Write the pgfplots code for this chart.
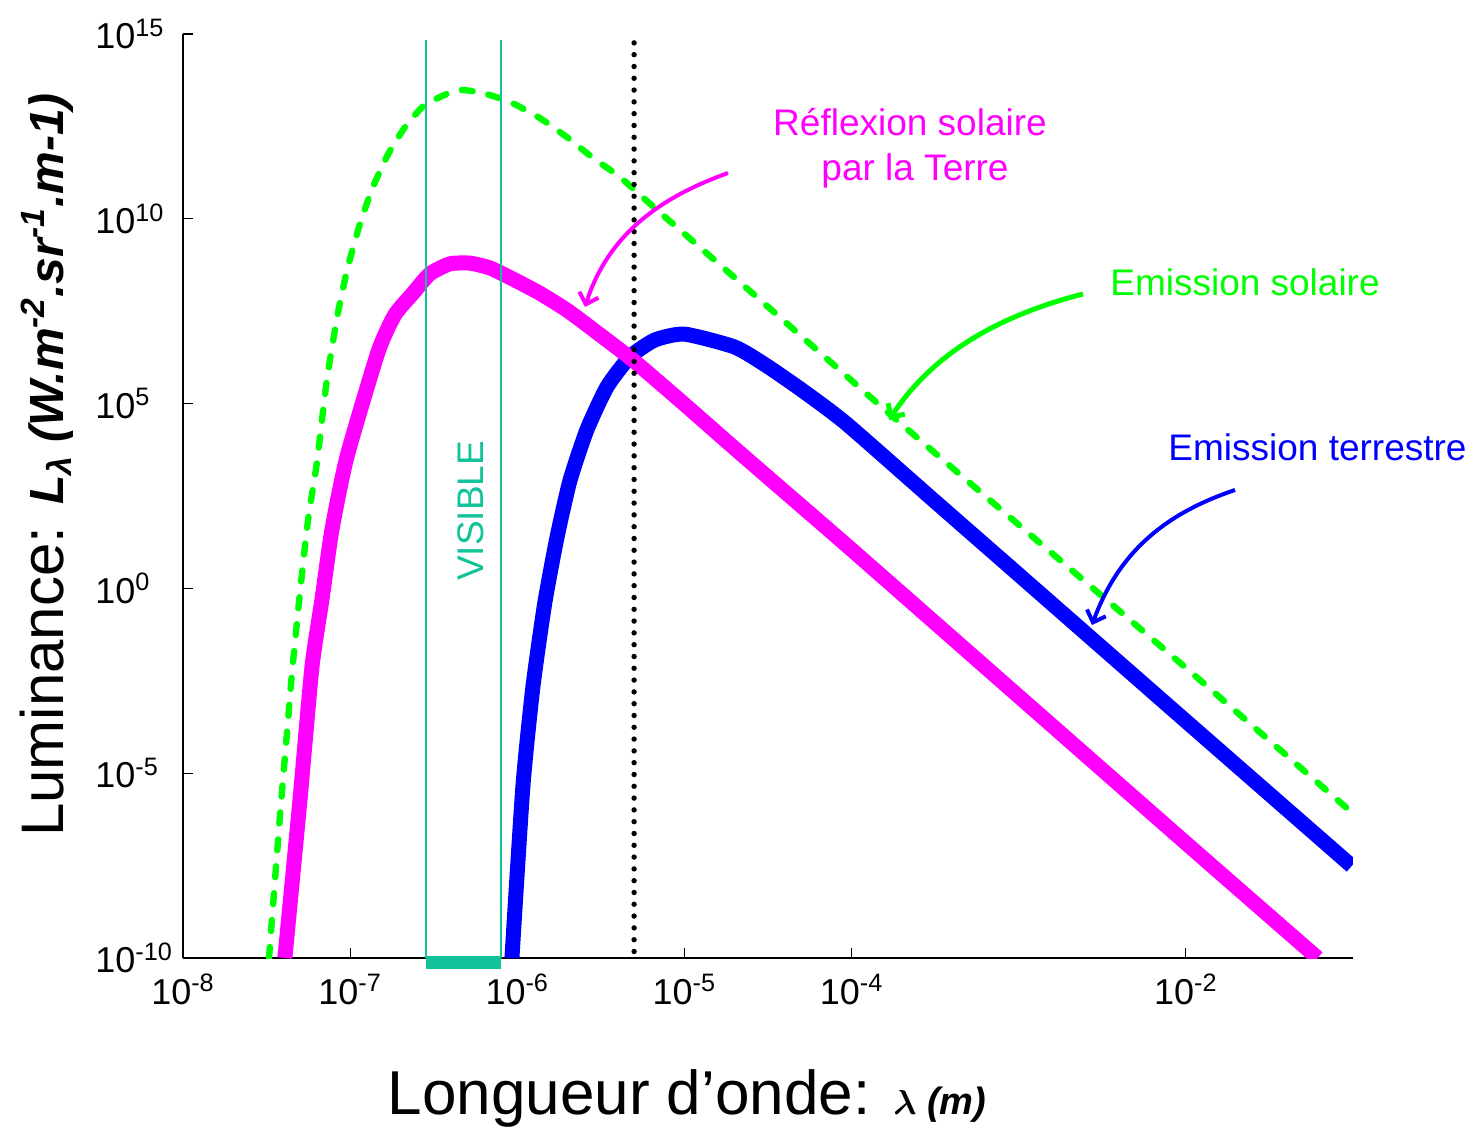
\documentclass[border=0pt]{standalone}
\usepackage{pgfplots}
\pgfplotsset{compat=1.18}
\usepackage{fontspec}
\setmainfont{Liberation Sans}
\usetikzlibrary{arrows.meta}
\definecolor{sunG}{HTML}{00FF00}
\definecolor{refM}{HTML}{FF00FF}
\definecolor{earthB}{HTML}{0000FF}
\definecolor{visT}{HTML}{12C39A}

\begin{document}
\begin{tikzpicture}
\useasboundingbox (0,0) rectangle (741pt,564pt);
\begin{axis}[at={(91.5pt,85pt)}, anchor=south west,
    scale only axis, width=585pt, height=462pt,
    xmode=log, ymode=log,
    xmin=1e-8, xmax=1e-1, ymin=1e-10, ymax=1e15,
    axis x line=bottom, axis y line=left,
    axis line style={line width=0.75pt, -},
    tick align=inside, major tick length=5pt, minor tick length=0pt,
    tick style={line width=0.6pt, black},
    xtick={1e-8,1e-7,1e-6,1e-5,1e-4,1e-2},
    xticklabels={10\textsuperscript{-8},10\textsuperscript{-7},10\textsuperscript{-6},10\textsuperscript{-5},10\textsuperscript{-4},10\textsuperscript{-2}},
    ytick={1e-10,1e-5,1,1e5,1e10,1e15},
    yticklabels={10\textsuperscript{-10},10\textsuperscript{-5},10\textsuperscript{0},10\textsuperscript{5},10\textsuperscript{10},10\textsuperscript{15}},
    tick label style={font=\fontsize{18}{21}\selectfont},
    xticklabel style={anchor=north, inner sep=0pt, yshift=-8pt},
    yticklabel style={anchor=west, inner sep=0pt, xshift=-44pt},
  ]
  % emission terrestre
  \addplot[earthB, line width=7.5pt, line join=round, smooth, tension=0.35] coordinates {
    (9.29e-7,1e-10) (1.08e-6,4.27e-6) (1.24e-6,2.14e-3) (1.46e-6,0.398)
    (1.73e-6,24.5) (2.07e-6,851) (2.61e-6,1.95e4) (3.44e-6,2.82e5)
    (4.71e-6,1.82e6) (6.65e-6,5.25e6) (1.0e-5,7.59e6) (2.0e-5,3.39e6)
    (3.11e-5,1.05e6) (5.25e-5,2.04e5) (9.35e-5,2.82e4) (3.16e-4,224)
    (1.0e-3,2.35) (1.0e-2,2.57e-4) (9.82e-2,3.09e-8)};
  % reflexion solaire
  \addplot[refM, line width=7.5pt, line join=round, smooth, tension=0.35] coordinates {
    (4.07e-8,1e-10) (5.01e-8,1.86e-6) (5.91e-8,7.41e-3) (6.78e-8,0.490)
    (7.78e-8,38.0) (9.57e-8,3.63e3) (1.47e-7,2.51e6) (1.85e-7,2.51e7)
    (2.38e-7,9.77e7) (3.00e-7,3.24e8) (3.95e-7,6.03e8) (5.21e-7,6.31e8)
    (6.86e-7,4.68e8) (9.42e-7,2.34e8) (1.36e-6,9.77e7) (1.98e-6,3.39e7)
    (2.72e-6,1.17e7) (4.91e-6,1.51e6) (9.77e-6,1.05e5) (1.95e-5,6.76e3)
    (3.88e-5,457) (1.0e-4,11.2) (1.0e-3,1.2e-3) (1.0e-2,1.29e-7) (6.14e-2,1e-10)};
  % emission solaire
  \addplot[sunG, line width=3.2pt, line cap=round, smooth, tension=0.35, dash pattern=on 5.5pt off 8pt] coordinates {
    (3.27e-8,1e-10) (3.80e-8,6.61e-7) (4.19e-8,1.23e-4) (4.49e-8,5.13e-3)
    (5.01e-8,0.759) (5.60e-8,70.8) (6.32e-8,2.45e3) (7.26e-8,4.37e5)
    (8.45e-8,2.82e7) (9.70e-8,5.01e8) (1.15e-7,7.76e9) (1.37e-7,7.24e10)
    (1.68e-7,5.37e11) (2.13e-7,3.02e12) (2.80e-7,1.20e13) (4.36e-7,3.02e13)
    (6.22e-7,2.51e13) (9.04e-7,1.45e13) (1.36e-6,5.37e12) (1.98e-6,1.62e12)
    (2.83e-6,4.47e11) (4.11e-6,1.35e11) (6.84e-6,1.74e10) (9.40e-6,5.01e9)
    (3.16e-5,4.17e7) (1.69e-4,5.25e4) (1.0e-3,52.5) (1.0e-2,7.08e-3) (9.16e-2,1.15e-6)};
  % domaine visible
  \addplot[visT, line width=1.2pt] coordinates {(2.85e-7,1e-10) (2.85e-7,6.9e14)};
  \addplot[visT, line width=1.2pt] coordinates {(8e-7,1e-10) (8e-7,6.9e14)};
  \addplot[black, line width=2.7pt, line cap=round, dash pattern=on 0pt off 5.9pt] coordinates {(5e-6,1.5e-10) (5e-6,7.8e14)};
  \coordinate (v1) at (axis cs:2.85e-7,1e-10);
  \coordinate (v2) at (axis cs:8e-7,1e-10);
\end{axis}
\draw[visT, line width=6.5pt] ([yshift=-2.25pt]v1) -- ([yshift=-2.25pt]v2);
\node[visT, rotate=90, anchor=base, font=\fontsize{18.5}{22}\selectfont] at (241.5pt,308.5pt) {VISIBLE};

\node[refM, anchor=base, font=\fontsize{18.5}{22}\selectfont] at (455pt,496pt) {Réflexion solaire};
\node[refM, anchor=base, font=\fontsize{18.5}{22}\selectfont] at (457.5pt,473.5pt) {par la Terre};
\node[sunG, anchor=base, font=\fontsize{18.5}{22}\selectfont] at (622.5pt,416pt) {Emission solaire};
\node[earthB, anchor=base, font=\fontsize{18.5}{22}\selectfont] at (658.75pt,333.5pt) {Emission terrestre};

\draw[refM, line width=2pt, -{Straight Barb[length=5pt,width=10pt]}] (364pt,477.5pt) .. controls (335pt,467pt) and (305pt,450pt) .. (292.5pt,410.5pt);
\draw[sunG, line width=2.5pt, -{Straight Barb[length=5pt,width=10pt]}] (541.5pt,417pt) .. controls (495pt,405pt) and (465pt,385pt) .. (444.5pt,354pt);
\draw[earthB, line width=2pt, -{Straight Barb[length=5pt,width=10pt]}] (617.5pt,319pt) .. controls (585pt,308pt) and (560pt,290pt) .. (546pt,251.5pt);

\node[anchor=base] at (343.5pt,6.5pt) {{\fontsize{31}{36}\selectfont Longueur d’onde: }{\fontsize{19}{22}\selectfont\bfseries\itshape{\boldmath$\lambda$} (m)}};
\node[rotate=90, anchor=base] at (31.5pt,331.5pt) {{\fontsize{30}{34}\selectfont Luminance: }{\fontsize{24}{28}\selectfont\bfseries\itshape L\textsubscript{λ} (W.m\textsuperscript{-2}.sr\textsuperscript{-1}.m-1)}};
\end{tikzpicture}
\end{document}
